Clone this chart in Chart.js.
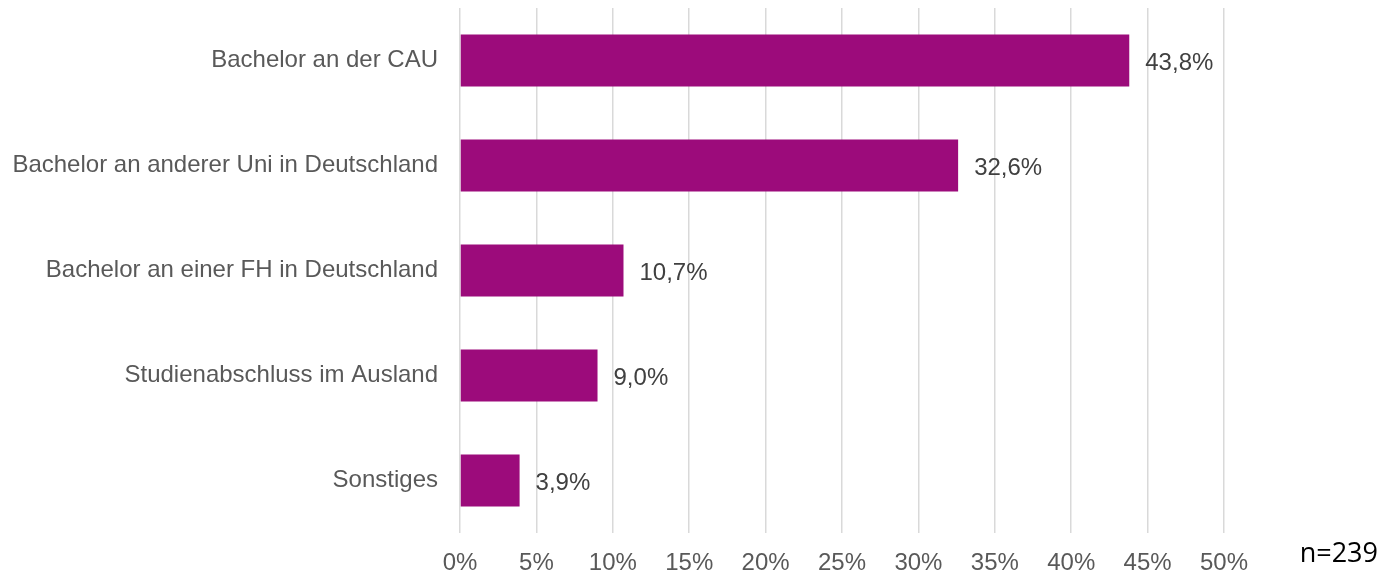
<!DOCTYPE html>
<html>
<head>
<meta charset="utf-8">
<script src="https://cdn.jsdelivr.net/npm/chart.js@4/dist/chart.umd.min.js"></script>
<style>
  html, body { margin: 0; padding: 0; background: #fff; }
  #wrap { width: 1382px; height: 574px; position: relative; }
</style>
</head>
<body>
<div id="wrap"><canvas id="chart" width="1382" height="574"></canvas></div>
<script>
const kategorien = ["Bachelor an der CAU", "Bachelor an anderer Uni in Deutschland", "Bachelor an einer FH in Deutschland", "Studienabschluss im Ausland", "Sonstiges"];
const anteile = [43.8, 32.6, 10.7, 9.0, 3.9];
const stichprobe = "n=239";

// Werte rechts neben die Balken schreiben + n=239
const labelPlugin = {
    id: 'werte',
    afterDatasetsDraw(chart) {
        const ctx = chart.ctx;
        const meta = chart.getDatasetMeta(0);
        ctx.save();
        ctx.font = '24px "Liberation Sans", Arial, sans-serif';
        ctx.fillStyle = '#404040';
        ctx.textAlign = 'left';
        ctx.textBaseline = 'middle';
        meta.data.forEach((bar, i) => {
            const txt = anteile[i].toFixed(1).replace('.', ',') + '%';
            ctx.fillText(txt, bar.x + 16, bar.y + 2.5);
        });
        ctx.font = '27px "Open Sans", sans-serif';
        ctx.fillStyle = '#000';
        ctx.textAlign = 'right';
        ctx.textBaseline = 'alphabetic';
        ctx.fillText(stichprobe, 1378, 562);
        ctx.restore();
    }
};

const chart = new Chart(document.getElementById('chart'), {
    type: 'bar',
    data: {
        labels: kategorien,
        datasets: [{
            data: anteile,
            backgroundColor: '#9c0b7b',
            borderWidth: 0,
            categoryPercentage: 1.0,
            barPercentage: 0.494
        }]
    },
    plugins: [labelPlugin],
    options: {
        indexAxis: 'y',
        responsive: false,
        animation: false,
        devicePixelRatio: 1,
        layout: { padding: { top: 8, right: 158, bottom: 0, left: 0 } },
        plugins: {
            legend: { display: false },
            tooltip: { enabled: false }
        },
        scales: {
            x: {
                min: 0, max: 50,
                afterFit: s => { s.height = 41; s.paddingLeft = 0; s.paddingRight = 0; },
                border: { display: false },
                grid: { color: '#d9d9d9', lineWidth: 1.5, drawTicks: false },
                ticks: {
                    stepSize: 5,
                    padding: 16,
                    color: '#595959',
                    font: { family: '"Liberation Sans", Arial, sans-serif', size: 24 },
                    callback: v => v + '%'
                }
            },
            y: {
                afterFit: s => { s.width = 460; s.paddingTop = 0; s.paddingBottom = 0; },
                border: { display: false },
                grid: { display: false, drawTicks: false },
                ticks: {
                    padding: 22,
                    color: '#595959',
                    font: { family: '"Liberation Sans", Arial, sans-serif', size: 24 }
                }
            }
        }
    }
});
</script>
</body>
</html>
